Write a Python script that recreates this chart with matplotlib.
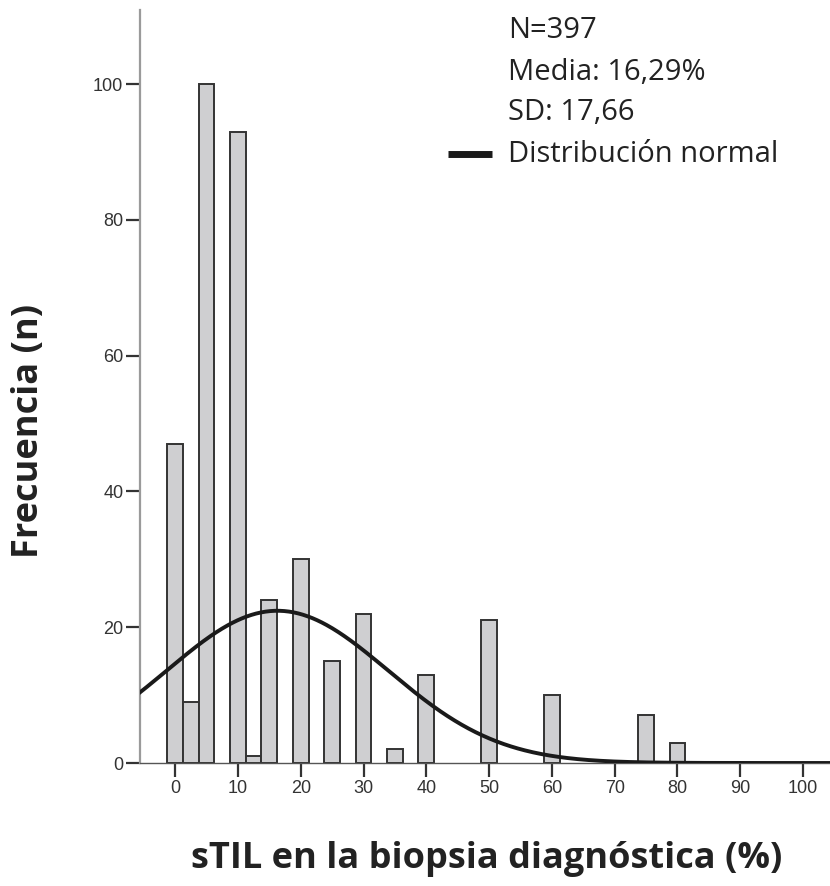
import numpy as np
import matplotlib
matplotlib.use("Agg")
import matplotlib.pyplot as plt

# sTIL values (%) at bar centres and their counts
stil_values = [0, 2.5, 5, 10, 12.5, 15, 20, 25, 30, 35, 40, 50, 60, 75, 80]
counts = [47, 9, 100, 93, 1, 24, 30, 15, 22, 2, 13, 21, 10, 7, 3]
bin_width = 2.5

n_total = 397
mean_pct = 16.29
sd_pct = 17.66

x_ticks = [0, 10, 20, 30, 40, 50, 60, 70, 80, 90, 100]
y_ticks = [0, 20, 40, 60, 80, 100]

fig = plt.figure(figsize=(8.30, 8.86), dpi=100)
ax = fig.add_axes([140 / 830, 123 / 886, 690 / 830, 753 / 886])

ax.bar(stil_values, counts, width=bin_width, color="#cfcfd1",
       edgecolor="#333333", linewidth=1.4, zorder=2)

# fitted normal curve scaled to counts per bin
xs = np.linspace(-6, 106, 600)
pdf = np.exp(-0.5 * ((xs - mean_pct) / sd_pct) ** 2) / (sd_pct * np.sqrt(2 * np.pi))
ax.plot(xs, n_total * bin_width * pdf, color="#1a1a1a", linewidth=2.8,
        zorder=3, solid_capstyle="butt")

ax.set_xlim(-5.6, 104.3)
ax.set_ylim(0, 110.9)

for side in ("top", "right"):
    ax.spines[side].set_visible(False)
ax.spines["left"].set_color("#9a9a9a")
ax.spines["left"].set_linewidth(1.6)
ax.spines["bottom"].set_color("#555555")
ax.spines["bottom"].set_linewidth(1.0)

ax.set_xticks(x_ticks)
ax.set_yticks(y_ticks)
ax.tick_params(axis="both", direction="out", length=10, width=1.6,
               color="#333333", labelcolor="#333333", labelsize=13, pad=2)
for lab in ax.get_xticklabels() + ax.get_yticklabels():
    lab.set_family("Liberation Sans")

fig.text(29 / 830, 1 - 431 / 886, "Frecuencia (n)", rotation=90,
         ha="center", va="center", fontsize=26, fontweight="bold",
         family="Open Sans", color="#222222")
fig.text(487 / 830, 1 - 859 / 886, "sTIL en la biopsia diagnóstica (%)",
         ha="center", va="center", fontsize=26, fontweight="bold",
         family="Open Sans", color="#222222")

# statistics block with the curve key
info_lines = [f"N={n_total}",
              "Media: " + f"{mean_pct:.2f}".replace(".", ",") + "%",
              "SD: " + f"{sd_pct:.2f}".replace(".", ","),
              "Distribución normal"]
line_y = [31, 73, 113, 154]
for txt, yp in zip(info_lines, line_y):
    fig.text(508 / 830, 1 - yp / 886, txt, ha="left", va="center",
             fontsize=21, family="Open Sans", color="#222222")
fig.add_artist(plt.Line2D([448 / 830, 492 / 830], [1 - 154 / 886, 1 - 154 / 886],
                          color="#1a1a1a", linewidth=5, solid_capstyle="butt"))

fig.savefig("out.png", dpi=100)
